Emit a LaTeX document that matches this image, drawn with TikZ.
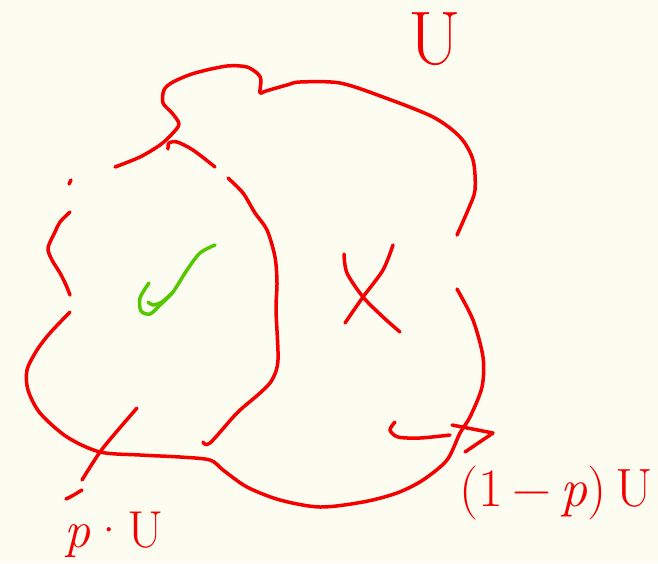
\documentclass[tikz,border=0pt]{standalone}
\usepackage{fontspec}
\usetikzlibrary{positioning}
\definecolor{cred}{HTML}{F50000}
\definecolor{cgreen}{HTML}{55C800}
\definecolor{cpaper}{HTML}{FCFCF0}
\tikzset{
  pen/.style={draw=cred, line width=3.5pt, line cap=round, line join=round},
  greenpen/.style={pen, draw=cgreen},
  lbl/.style={text=cred, inner sep=0pt, anchor=base},
}

\begin{document}
\begin{tikzpicture}[x=1pt, y=-1pt]
  \fill[cpaper] (0,0) rectangle (658,563);
  \useasboundingbox (0,0) rectangle (658,563);
  % outer set U
  \draw[pen] plot[smooth] coordinates {(115,167) (140,157) (160,145) (172,134) (179,124) (172,113) (163,103) (164,90) (173,82) (195,73) (227,66) (247,67) (258,74) (261,80) (260,93) (266,91) (287,85) (300,82) (340,83) (383,97) (433,117) (460,137) (473,160) (475,190) (468,210) (457,235)};
  \draw[pen] plot[smooth] coordinates {(457,289) (473,320) (483,357) (482,387) (470,417) (460,433) (447,460) (423,480) (397,493) (363,502) (320,507) (280,500) (247,487) (223,470) (210,460) (180,457) (140,455) (100,452) (67,437) (40,413) (28,390) (27,370) (37,350) (50,333) (70,312)};
  \draw[pen] plot[smooth] coordinates {(70,212) (60,222) (55,232) (48,248) (52,260) (60,273) (66,285) (70,295)};
  \draw[pen] (69,184) -- (71,180);
  % inner set
  \draw[pen] plot[smooth] coordinates {(168,149) (169,143) (177,142) (193,150) (215,167)};
  \draw[pen] plot[smooth] coordinates {(228,178) (243,193) (255,213) (267,230) (275,257) (277,283) (276,310) (278,360) (272,380) (260,393) (237,413) (210,443) (203,442)};
  % marks
  \draw[greenpen] plot[smooth] coordinates {(215,245) (200,253) (187,270) (173,292) (160,305) (150,314) (141,311) (140,298) (149,283)};
  \draw[greenpen] plot[smooth] coordinates {(148,302) (153,305) (162,302) (173,292)};
  \draw[pen] plot[smooth] coordinates {(344,254) (347,273) (363,297) (383,317) (400,332)};
  \draw[pen] plot[smooth] coordinates {(393,245) (383,270) (363,297) (345,323)};
  % pointers
  \draw[pen] plot[smooth] coordinates {(137,408) (118,430) (100,452) (82,480)};
  \draw[pen] plot[smooth] coordinates {(82,490) (72,496) (66,499)};
  \draw[pen] plot[smooth] coordinates {(395,422) (390,430) (398,437) (420,438) (450,435)};
  \draw[pen] (452,425) -- (493,433) -- (465,452);
  % labels
  \node[lbl] (lblU) at (435,64) {\fontsize{76}{76}\selectfont U};
  \node[lbl] (lblP) at (114,547) {\fontsize{52}{52}\selectfont \textit{p}·U};
  \node[lbl] (lblQ) at (556,506) {\fontsize{54}{54}\selectfont (1\,−\,\textit{p})\,U};
\end{tikzpicture}
\end{document}
